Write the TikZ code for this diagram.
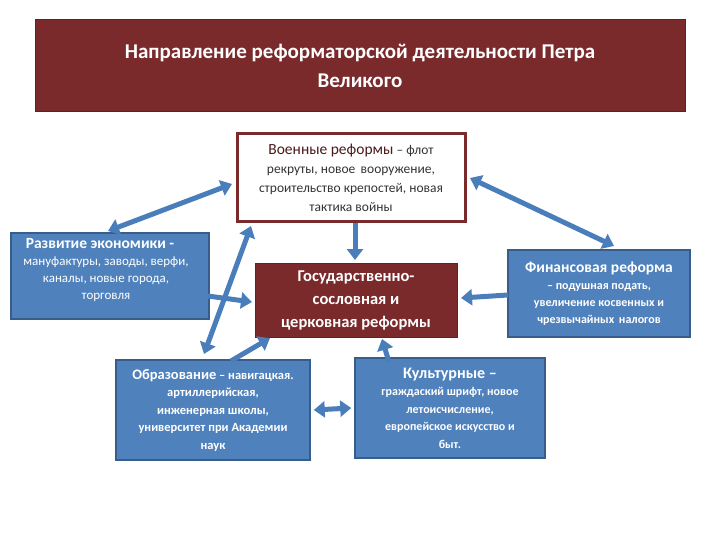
\documentclass[tikz,border=0pt]{standalone}
\usepackage{fontspec}
\setmainfont{Carlito}
\usetikzlibrary{arrows.meta,calc}
\definecolor{dred}{HTML}{7B2A2C}
\definecolor{bfill}{HTML}{4F81BD}
\definecolor{bdraw}{HTML}{385D8A}
\definecolor{arr}{HTML}{4A7EBB}
\tikzset{
 bluebox/.style={draw=bdraw,line width=1.5pt,fill=bfill,text=white,align=center,inner sep=2pt},
 redbox/.style={draw=dred!80!black,line width=1pt,fill=dred,text=white,align=center},
 link/.style={draw=arr,line width=5pt,-{Triangle[width=16pt,length=11pt]}},
 blink/.style={draw=arr,line width=5pt,{Triangle[width=16pt,length=11pt]}-{Triangle[width=16pt,length=11pt]}}
}
\begin{document}
\begin{tikzpicture}[x=1pt,y=-1pt]
\useasboundingbox (0,0) rectangle (720,540);
\node[redbox,minimum width=650pt,minimum height=92pt,font=\bfseries\fontsize{21}{29}\selectfont] (title) at (360,66) {Направление реформаторской деятельности Петра\\Великого};
\node[draw=dred,line width=3pt,fill=white,text=black!80,align=center,minimum width=228pt,minimum height=88pt,inner sep=1pt,font=\fontsize{13.5}{19}\selectfont] (mil) at (351,177.5) {\textcolor{dred!60!black}{\fontsize{15.5}{19}\selectfont Военные реформы} -- флот\\рекруты, новое\, вооружение,\\строительство крепостей, новая\\тактика войны};
\node[bluebox,minimum width=198pt,minimum height=86pt,anchor=north west] (eco) at (10,232) {};
\node[text=white,align=center,font=\fontsize{13}{17}\selectfont,anchor=north,inner sep=0pt] (ecot) at (106,238) {\hspace*{-12pt}{\bfseries\fontsize{15.5}{17}\selectfont Развитие экономики -}\\мануфактуры, заводы, верфи,\\каналы, новые города,\\торговля};
\node[redbox,minimum width=202pt,minimum height=74pt,font=\bfseries\fontsize{16.5}{23}\selectfont] (state) at (356,300) {Государственно-\\сословная и\\церковная реформы};
\node[bluebox,minimum width=182pt,minimum height=87pt,font=\bfseries\fontsize{12}{17}\selectfont] (fin) at (599,293.5) {{\fontsize{15.5}{21}\selectfont Финансовая реформа}\\-- подушная подать,\\увеличение косвенных и\\чрезвычайных\, налогов};
\node[bluebox,minimum width=194pt,minimum height=100pt,font=\bfseries\fontsize{12.5}{17.5}\selectfont] (edu) at (213,410) {{\fontsize{14.5}{17.5}\selectfont Образование} -- навигацкая.\\артиллерийская,\\инженерная школы,\\университет при Академии\\наук};
\node[bluebox,minimum width=190pt,minimum height=100pt,font=\bfseries\fontsize{12}{17.5}\selectfont] (cul) at (450,408) {{\fontsize{16}{20}\selectfont Культурные --}\\граждаский шрифт, новое\\летоисчисление,\\европейское искусство и\\быт.};
\coordinate (a1) at (232,184); \coordinate (a2) at (108,231);
\draw[blink] (a1) -- (a2);
\coordinate (b1) at (470,178); \coordinate (b2) at (614,246);
\draw[blink] (b1) -- (b2);
\draw[link] (mil.south -| 355,0) -- (355,260);
\coordinate (c1) at (251,226); \coordinate (c2) at (204,354);
\draw[blink] (c1) -- (c2);
\coordinate (d1) at (208,296); \coordinate (d2) at (252,302);
\draw[link] (d1) -- (d2);
\coordinate (e1) at (508,295); \coordinate (e2) at (461,298);
\draw[link] (e1) -- (e2);
\coordinate (f1) at (231,361); \coordinate (f2) at (270,338);
\draw[link] (f1) -- (f2);
\coordinate (g1) at (389,362); \coordinate (g2) at (382,339);
\draw[link] (g1) -- (g2);
\draw[blink] ($(edu.east)+(3,0)$) -- ($(cul.west)+(-3,0)$);
\end{tikzpicture}
\end{document}
